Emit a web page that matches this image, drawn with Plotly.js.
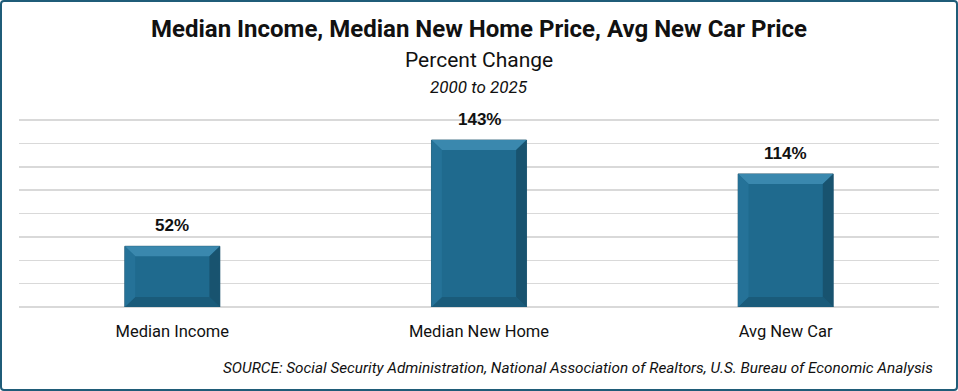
<!DOCTYPE html>
<html>
<head>
<meta charset="utf-8">
<script src="https://cdn.plot.ly/plotly-3.0.1.min.js"></script>
<style>
  html, body { margin: 0; padding: 0; background: #ffffff; }
  #wrap { position: relative; width: 958px; height: 391px; }
  #chart { width: 958px; height: 391px; }
  #frame { position: absolute; left: 0; top: 0; width: 958px; height: 391px; box-sizing: border-box;
           border: 2px solid #1f5c78; border-radius: 4px; pointer-events: none; }
</style>
</head>
<body>
<div id="wrap"><div id="chart"></div><div id="frame"></div></div>
<script>
// ---- data ----
const categories = ["Median Income", "Median New Home", "Avg New Car"];
const pctChange = [52, 143, 114];
const valueLabels = ["52%", "143%", "114%"];
const titleText = "Median Income, Median New Home Price, Avg New Car Price";
const subtitleText = "Percent Change";
const periodText = "2000 to 2025";
const sourceText = "SOURCE: Social Security Administration, National Association of Realtors, U.S. Bureau of Economic Analysis";

// ---- style ----
const NARROW = "Roboto, 'Liberation Sans', sans-serif";
const ARIAL = "'Liberation Sans', Arial, sans-serif";
const W = 958, H = 391;
const margin = {l: 19, r: 19, t: 119, b: 84};
const yMax = 161;
const bargap = 0.69;
const half = (1 - bargap) / 2;
const plotH = H - margin.t - margin.b;
const unitsPerPx = yMax / plotH;
const bevX = 0.034;           // category units
const bevY = 10 * unitsPerPx; // ~10px

const faceColor = "#1f6a8e";

// bevel faces derived from the data values
const shapes = [];
pctChange.forEach((v, i) => {
  const x0 = i - half, x1 = i + half;
  const ix0 = x0 + bevX, ix1 = x1 - bevX;
  const iy1 = v - bevY, iy0 = bevY;
  const poly = (pts, color) => shapes.push({
    type: "path", xref: "x", yref: "y", layer: "above",
    path: "M" + pts.map(p => p[0] + "," + p[1]).join(" L") + " Z",
    fillcolor: color, line: {width: 0}
  });
  poly([[x0, v], [x1, v], [ix1, iy1], [ix0, iy1]], "#3a88ae");   // top
  poly([[x0, 0], [x1, 0], [ix1, iy0], [ix0, iy0]], "#1a5b7a");   // bottom
  poly([[x0, 0], [x0, v], [ix0, iy1], [ix0, iy0]], "#257298");   // left
  poly([[x1, 0], [x1, v], [ix1, iy1], [ix1, iy0]], "#18536f");   // right
});

const annotations = [
  {text: subtitleText, xref: "paper", yref: "paper", x: 0.5, y: (H - margin.b - 60) / plotH,
   xanchor: "center", yanchor: "middle", showarrow: false,
   font: {family: NARROW, size: 21, color: "#111111"}},
  {text: "<i>" + periodText + "</i>", xref: "paper", yref: "paper", x: 0.5, y: (H - margin.b - 87) / plotH,
   xanchor: "center", yanchor: "middle", showarrow: false,
   font: {family: NARROW, size: 17, color: "#111111"}},
  {text: "<i>" + sourceText + "</i>", xref: "paper", yref: "paper", x: (935 - margin.l) / (W - margin.l - margin.r),
   y: (H - margin.b - 368) / plotH, xanchor: "right", yanchor: "middle", showarrow: false,
   font: {family: NARROW, size: 15.3, color: "#111111"}}
];
categories.forEach((c, i) => {
  annotations.push({
    text: "<b>" + valueLabels[i] + "</b>", x: c, y: pctChange[i], xref: "x", yref: "y",
    xanchor: "center", yanchor: "bottom", yshift: 9, showarrow: false,
    font: {family: ARIAL, size: 17, color: "#111111"}
  });
});

const trace = {
  type: "bar", x: categories, y: pctChange,
  marker: {color: faceColor, line: {color: "#174e68", width: 0.8}},
  hoverinfo: "skip"
};

const layout = {
  width: W, height: H, margin: margin,
  paper_bgcolor: "#ffffff", plot_bgcolor: "#ffffff",
  showlegend: false, bargap: bargap,
  title: {text: "<b>" + titleText + "</b>", x: 0.5, xanchor: "center", xref: "paper",
          y: 1 - 29 / H, yref: "container", yanchor: "middle",
          font: {family: NARROW, size: 24, color: "#111111"}},
  xaxis: {type: "category", showgrid: false, zeroline: false, showline: false, ticks: "",
          tickfont: {family: NARROW, size: 16.5, color: "#111111"}, ticklabelstandoff: 12},
  yaxis: {range: [0, yMax], dtick: 20, tick0: 0, showgrid: true, gridcolor: "#d9d9d9", gridwidth: 1.5,
          zeroline: true, zerolinecolor: "#d9d9d9", zerolinewidth: 1.5, showticklabels: false, ticks: "",
          fixedrange: true},
  shapes: shapes,
  annotations: annotations
};

Plotly.newPlot("chart", [trace], layout, {displayModeBar: false, staticPlot: true});
</script>
</body>
</html>
